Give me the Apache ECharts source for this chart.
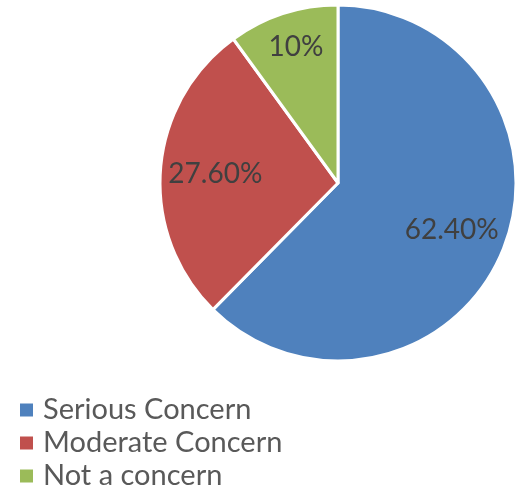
<!DOCTYPE html>
<html><head><meta charset="utf-8">
<script src="https://cdn.jsdelivr.net/npm/echarts@6/dist/echarts.min.js"></script>
<style>html,body{margin:0;padding:0;background:#fff}#c{width:515px;height:493px}</style>
</head><body><div id="c"></div>
<script>
const categories = ['Serious Concern', 'Moderate Concern', 'Not a concern'];
const values = [62.4, 27.6, 10];
const labels = ['62.40%', '27.60%', '10%'];
const colors = ['#4F81BD', '#C0504D', '#9BBB59'];

const chart = echarts.init(document.getElementById('c'));
const data = categories.map((n, i) => ({ name: n, value: values[i], itemStyle: { color: colors[i] } }));
const labelData = categories.map((n, i) => ({ name: n, value: values[i], label: { formatter: labels[i] } }));
chart.setOption({
  animation: false,
  legend: {
    orient: 'vertical', left: 20, top: 394, padding: 0, itemWidth: 13, itemHeight: 13, itemGap: 1,
    icon: 'rect',
    itemStyle: { borderWidth: 0 },
    textStyle: { fontFamily: 'Lato', fontSize: 29, color: '#595959', lineHeight: 32, padding: [0, 0, 0, 5] },
    data: categories
  },
  series: [{
    type: 'pie', center: [338, 183], radius: [0, 178], startAngle: 90, clockwise: true,
    silent: true, label: { show: false }, labelLine: { show: false },
    itemStyle: { borderColor: '#fff', borderWidth: 3 },
    data: data
  }, {
    type: 'pie', center: [338, 183], radius: [0, 240], startAngle: 90, clockwise: true,
    silent: true, legendHoverLink: false,
    itemStyle: { color: 'transparent' },
    label: { show: true, position: 'inside', fontFamily: 'Lato', fontSize: 28, color: '#404040' },
    labelLine: { show: false },
    labelLayout: function (p) { return p.dataIndex === 2 ? { dx: -4, dy: -19 } : {}; },
    data: labelData
  }]
});
</script></body></html>
